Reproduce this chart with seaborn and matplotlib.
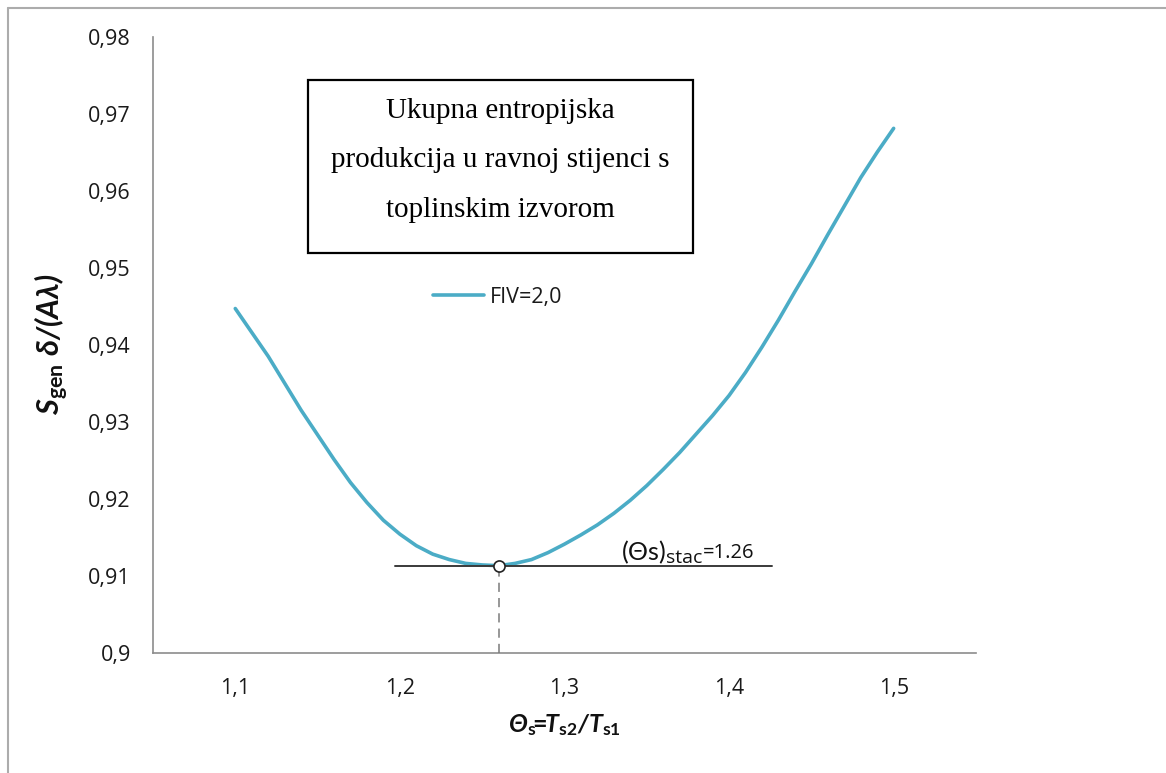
import matplotlib
matplotlib.use("Agg")
import matplotlib.pyplot as plt
from matplotlib.lines import Line2D
from matplotlib.patches import Rectangle
import seaborn as sns
import pandas as pd

# Dimensionless wall-temperature ratio and total entropy generation
theta_s = [1.10, 1.11, 1.12, 1.13, 1.14, 1.15, 1.16, 1.17, 1.18, 1.19,
           1.20, 1.21, 1.22, 1.23, 1.24, 1.25, 1.26, 1.27, 1.28, 1.29,
           1.30, 1.31, 1.32, 1.33, 1.34, 1.35, 1.36, 1.37, 1.38, 1.39,
           1.40, 1.41, 1.42, 1.43, 1.44, 1.45, 1.46, 1.47, 1.48, 1.49, 1.50]
s_gen = [0.9447, 0.9416, 0.9385, 0.9350, 0.9315, 0.9283, 0.9251, 0.9221,
         0.9195, 0.9172, 0.9154, 0.9139, 0.9128, 0.9121, 0.9116, 0.9114,
         0.9113, 0.9116, 0.9121, 0.9130, 0.9141, 0.9153, 0.9166, 0.9181,
         0.9198, 0.9217, 0.9238, 0.9260, 0.9284, 0.9308, 0.9334, 0.9364,
         0.9397, 0.9432, 0.9469, 0.9505, 0.9543, 0.9580, 0.9617, 0.9650,
         0.9681]
series_label = "FIV=2,0"

theta_stac = 1.26
s_min = 0.9113
stac_line = [1.197, 1.426]

x_ticks = [1.1, 1.2, 1.3, 1.4, 1.5]
x_tick_labels = ["1,1", "1,2", "1,3", "1,4", "1,5"]
y_ticks = [0.90, 0.91, 0.92, 0.93, 0.94, 0.95, 0.96, 0.97, 0.98]
y_tick_labels = ["0,9", "0,91", "0,92", "0,93", "0,94", "0,95", "0,96", "0,97", "0,98"]

box_lines = ["Ukupna entropijska",
             "produkcija u ravnoj stijenci s",
             "toplinskim izvorom"]

sns.set_theme(style="white")
plt.rcParams["font.family"] = ["Open Sans", "DejaVu Sans"]
plt.rcParams["mathtext.fontset"] = "custom"
plt.rcParams["mathtext.rm"] = "Lato"
plt.rcParams["mathtext.it"] = "Lato:italic"
plt.rcParams["mathtext.bf"] = "Lato:bold"
plt.rcParams["mathtext.bfit"] = "Lato:bold:italic"

fig = plt.figure(figsize=(11.66, 7.73), dpi=100)
ax = fig.add_axes([0.1312, 0.1556, 0.7058, 0.7969])

df = pd.DataFrame({"theta": theta_s, "sgen": s_gen})
curve_color = "#4bacc6"
sns.lineplot(data=df, x="theta", y="sgen", color=curve_color, linewidth=2.6,
             label=series_label, ax=ax)

# Stationary point: tangent line, drop line and marker
ax.plot(stac_line, [s_min, s_min], color="#3a3a3a", linewidth=1.4, zorder=3)
ax.plot([theta_stac, theta_stac], [0.90, s_min], color="#7a7a7a",
        linewidth=1.1, dashes=(6, 4), zorder=3)
ax.plot([theta_stac], [s_min], marker="o", markersize=8, markerfacecolor="white",
        markeredgecolor="#222222", markeredgewidth=1.2, zorder=5)

# Label of the stationary point: (Θs) with subscript "stac" and the value
ax.text(1.3346, 0.91204, r"$(\mathit{\Theta}\mathrm{s})$",
        fontsize=18, ha="left", va="baseline", color="#111111")
ax.text(1.3615, 0.91166, "stac", fontsize=14, ha="left", va="baseline",
        color="#111111")
ax.text(1.3840, 0.91226, f"={theta_stac:.2f}", fontsize=14.5, ha="left",
        va="baseline", color="#111111")

ax.set_xlim(1.05, 1.55)
ax.set_ylim(0.90, 0.98)
ax.set_xticks([1.05] + x_ticks + [1.55])
ax.set_xticklabels([""] + x_tick_labels + [""])
ax.set_yticks(y_ticks)
ax.set_yticklabels(y_tick_labels)

for side in ["top", "right"]:
    ax.spines[side].set_visible(False)
for side in ["left", "bottom"]:
    ax.spines[side].set_color("#8c8c8c")
    ax.spines[side].set_linewidth(1.2)

ax.tick_params(axis="both", which="major", direction="out", length=6, width=1.1,
               color="#8c8c8c", labelsize=15.5, labelcolor="#1a1a1a")
ax.tick_params(axis="y", pad=10)
ax.tick_params(axis="x", pad=12)

ax.set_xlabel(r"$\mathbfit{\Theta}_{\mathbf{s}}\!\!\mathbf{=}\!\!\mathbfit{T}_{\mathbf{s2}}\mathbfit{/T}_{\mathbf{s1}}$",
              fontsize=18, labelpad=10, color="#111111")
ax.set_ylabel(r"$\mathbfit{S}_{\mathbf{gen}}\ \mathbfit{\delta/(A\lambda)}$",
              fontsize=22, labelpad=12, color="#111111")

leg = ax.legend(frameon=False, loc="center left", bbox_to_anchor=(0.340, 0.577),
                fontsize=15.5, handlelength=2.4, handletextpad=0.25,
                borderaxespad=0, borderpad=0)
for t in leg.get_texts():
    t.set_color("#1a1a1a")

# Title box
ax.add_patch(Rectangle((0.1883, 0.6489), 0.4678, 0.2808, transform=ax.transAxes,
                       fill=False, edgecolor="black", linewidth=1.6, zorder=4))
for yb, line in zip([0.868, 0.789, 0.7078], box_lines):
    ax.text(0.4222, yb, line, transform=ax.transAxes, ha="center", va="baseline",
            fontsize=21, family=["Liberation Serif", "DejaVu Serif"], color="black")

# Outer chart border (top and left edges)
fig.add_artist(Line2D([8 / 1166, 8 / 1166], [0, 1 - 8 / 773], transform=fig.transFigure,
                      color="#acacac", linewidth=1.5))
fig.add_artist(Line2D([8 / 1166, 1], [1 - 8 / 773, 1 - 8 / 773], transform=fig.transFigure,
                      color="#acacac", linewidth=1.5))

fig.savefig("out.png", dpi=100)
